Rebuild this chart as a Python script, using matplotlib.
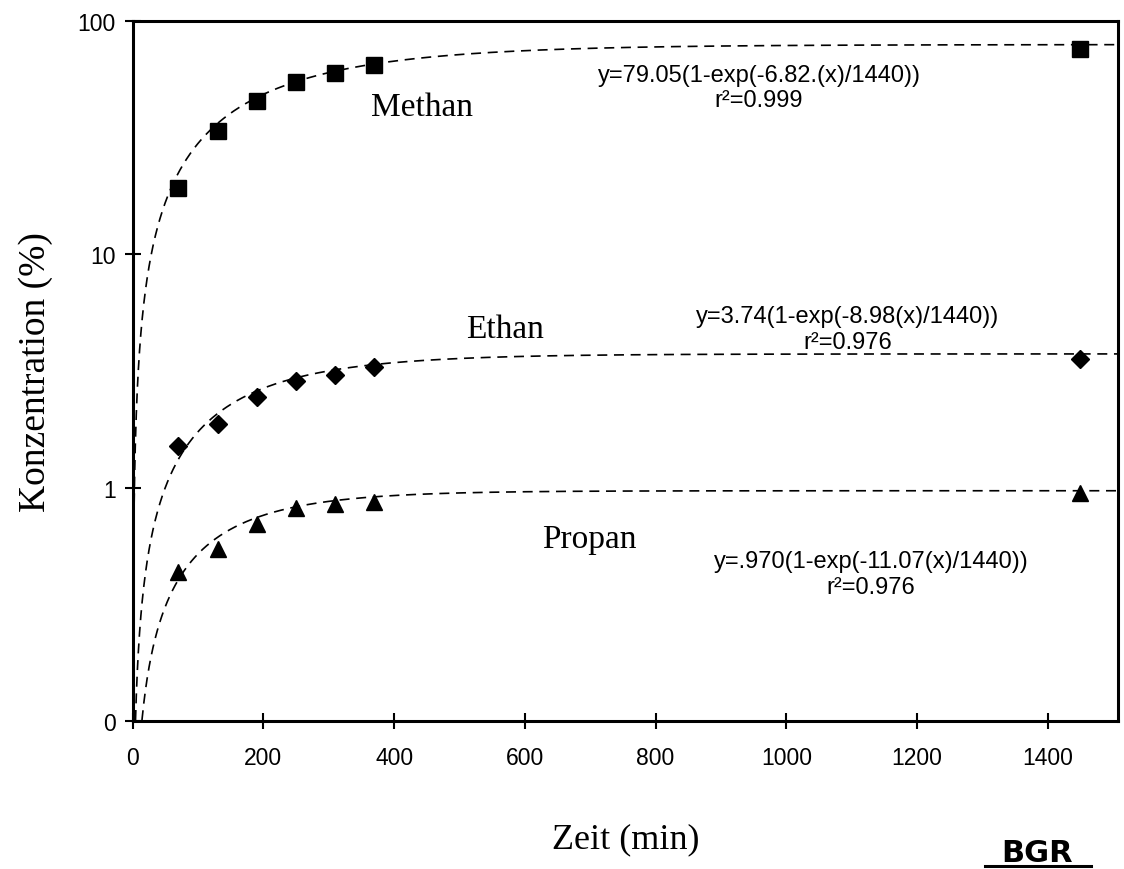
import numpy as np
import matplotlib
matplotlib.use("Agg")
import matplotlib.pyplot as plt
from matplotlib.lines import Line2D

# ---- data ----
zeit = [70, 130, 190, 250, 310, 370, 1450]
methan = [19.2, 33.8, 45.4, 54.8, 59.8, 64.8, 75.9]
ethan = [1.51, 1.87, 2.45, 2.86, 3.04, 3.29, 3.56]
propan = [0.435, 0.545, 0.698, 0.818, 0.851, 0.868, 0.948]

# fit parameters printed on the chart: y = A(1-exp(-k*x/1440))
fit_amp = [79.05, 3.74, 0.970]
fit_rate = [6.82, 8.98, 11.07]
fit_text = ["y=79.05(1-exp(-6.82.(x)/1440))\nr²=0.999",
            "y=3.74(1-exp(-8.98(x)/1440))\nr²=0.976",
            "y=.970(1-exp(-11.07(x)/1440))\nr²=0.976"]
names = ["Methan", "Ethan", "Propan"]
x_ticks = [0, 200, 400, 600, 800, 1000, 1200, 1400]
y_ticks = [0.1, 1, 10, 100]
y_ticklabels = ["0", "1", "10", "100"]

serif = "Liberation Serif"
sans = "Liberation Sans"

fig = plt.figure(figsize=(11.24, 8.70), dpi=100)
ax = fig.add_axes([0.118, 0.170, 0.877, 0.805])
ax.set_yscale("log")
ax.set_xlim(0, 1508)
ax.set_ylim(0.1, 100)

xs = np.linspace(0.05, 1508, 3000)
series = [methan, ethan, propan]
markers = ["s", "D", "^"]
msizes = [11, 9, 12]
for vals, A, k, m, ms in zip(series, fit_amp, fit_rate, markers, msizes):
    yfit = A * (1 - np.exp(-k * xs / 1440.0))
    ax.plot(xs, yfit, ls=(0, (6, 4)), color="black", lw=1.2)
    ax.plot(zeit, vals, ls="none", marker=m, ms=ms, color="black")

for s in ax.spines.values():
    s.set_linewidth(2.2)

ax.set_xticks(x_ticks)
ax.set_xticklabels([str(v) for v in x_ticks], fontfamily=sans, fontsize=16.5)
ax.set_yticks(y_ticks)
ax.set_yticklabels(y_ticklabels, fontfamily=sans, fontsize=16.5)
ax.yaxis.set_minor_locator(matplotlib.ticker.NullLocator())
ax.tick_params(axis="both", which="major", direction="inout", length=12, width=1.5, pad=6)
ax.tick_params(axis="x", pad=12)

ax.set_xlabel("Zeit (min)", fontfamily=serif, fontsize=26, labelpad=38)
ax.set_ylabel("Konzentration (%)", fontfamily=serif, fontsize=27, labelpad=18)


def px2x(px):
    return (px - 132) / 0.6543


def py2y(py):
    return 10 ** (2 - (py - 22) / 233.3)


# series names
name_pos = [(422, 108), (505, 330), (589, 540)]
for (px, py), n in zip(name_pos, names):
    ax.text(px2x(px), py2y(py), n, fontfamily=serif, fontsize=24,
            ha="center", va="center")

# fit equations
eq_pos = [(759, 89), (848, 330), (871, 575)]
for (px, py), t in zip(eq_pos, fit_text):
    ax.text(px2x(px), py2y(py), t, fontfamily=sans, fontsize=17,
            ha="center", va="center", multialignment="center", linespacing=1.2)

# BGR logo
fig.text(0.9226, 0.0195, "BGR", fontfamily="DejaVu Sans", fontweight="bold",
         fontsize=22, ha="center", va="center")
fig.add_artist(Line2D([0.876, 0.971], [0.0035, 0.0035], color="black", lw=2.2,
                      transform=fig.transFigure))

fig.savefig("out.png", dpi=100, facecolor="white")
